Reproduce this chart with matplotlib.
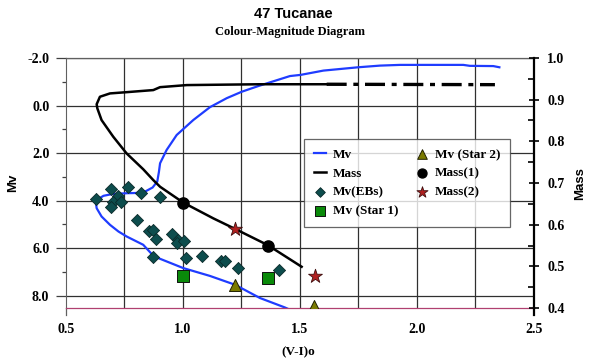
import matplotlib
matplotlib.use("Agg")
import matplotlib.pyplot as plt
from matplotlib.ticker import MultipleLocator, FormatStrFormatter

# ---------------- data ----------------
# Isochrone Mv vs (V-I)o  (left axis)
iso_vi = [2.352, 2.326, 2.226, 2.198, 1.927, 1.842, 1.749, 1.600, 1.503, 1.457,
          1.322, 1.251, 1.187, 1.115, 1.044, 0.973, 0.930, 0.902, 0.897, 0.890,
          0.870, 0.838, 0.800, 0.760, 0.700, 0.660, 0.630, 0.628, 0.631, 0.652,
          0.688, 0.724, 0.759, 0.830, 0.873, 0.902, 1.001, 1.115, 1.222, 1.329,
          1.436, 1.470]
iso_mv = [-1.61, -1.66, -1.67, -1.71, -1.71, -1.68, -1.61, -1.47, -1.29, -1.24,
          -0.82, -0.58, -0.31, 0.07, 0.61, 1.24, 1.87, 2.43, 2.80, 3.20,
          3.45, 3.62, 3.68, 3.69, 3.72, 3.80, 3.98, 4.10, 4.32, 4.67,
          5.02, 5.30, 5.51, 5.86, 6.32, 6.45, 6.84, 7.17, 7.54, 8.10,
          8.50, 8.65]

# Isochrone mass vs (V-I)o  (right axis)
mass_vi = [1.507, 1.362, 1.222, 1.130, 1.001, 0.902, 0.873, 0.830, 0.759, 0.702,
           0.652, 0.634, 0.631, 0.645, 0.688, 0.759, 0.873, 0.902, 1.016, 1.329,
           1.614]
mass_m = [0.499, 0.551, 0.590, 0.615, 0.653, 0.691, 0.707, 0.733, 0.771, 0.811,
          0.851, 0.879, 0.889, 0.907, 0.915, 0.918, 0.923, 0.930, 0.935, 0.937,
          0.937]
mass_ext_vi = [1.614, 2.333]
mass_ext_m = [0.937, 0.936]

# Eclipsing binaries
eb_vi = [0.628, 0.692, 0.764, 0.721, 0.702, 0.735, 0.692, 0.820, 0.902, 0.803,
         0.853, 0.870, 0.885, 0.952, 0.977, 0.973, 1.003, 0.872, 1.013, 1.081,
         1.161, 1.181, 1.236, 1.410]
eb_mv = [3.94, 3.51, 3.42, 3.79, 4.07, 4.07, 4.29, 3.66, 3.83, 4.81,
         5.27, 5.23, 5.60, 5.40, 5.65, 5.79, 5.68, 6.37, 6.41, 6.32,
         6.55, 6.55, 6.82, 6.93]

star1_vi = [1.001, 1.362]
star1_mv = [7.19, 7.24]
star2_vi = [1.222, 1.561]
star2_mv = [7.54, 8.45]
mass1_vi = [1.000, 1.362]
mass1_m = [0.653, 0.548]
mass2_vi = [1.222, 1.563]
mass2_m = [0.590, 0.478]

x_ticks = [0.5, 1.0, 1.5, 2.0, 2.5]
mv_ticks = [-2.0, 0.0, 2.0, 4.0, 6.0, 8.0]
mass_ticks = [0.4, 0.5, 0.6, 0.7, 0.8, 0.9, 1.0]

# ---------------- figure ----------------
serif = "Liberation Serif"
sans = "Liberation Sans"

fig = plt.figure(figsize=(5.89, 3.64), dpi=100)
ax = fig.add_axes([66/589, 1-308/364, 468/589, 250/364])
ax2 = ax.twinx()

ax.set_xlim(0.5, 2.5)
ax.set_ylim(8.52, -2.0)
ax2.set_ylim(0.4, 1.0)

# grid
for xv in [0.75, 1.0, 1.25, 1.5, 1.75, 2.0, 2.25]:
    ax.axvline(xv, color="#303030", lw=0.9, zorder=0.5)
for yv in mv_ticks:
    ax.axhline(yv, color="#303030", lw=0.9, zorder=0.5)

blue = "#1f3cff"
l_mv, = ax.plot(iso_vi, iso_mv, color=blue, lw=1.6, zorder=2, label="Mv")
eb_h = ax.scatter(eb_vi, eb_mv, marker="D", s=38, facecolor="#0d4d4d",
                  edgecolor="#0a2a2a", linewidth=0.6, zorder=3, label="Mv(EBs)")
s1_h = ax.scatter(star1_vi, star1_mv, marker="s", s=70, facecolor="#0a8a0a",
                  edgecolor="#101010", linewidth=0.7, zorder=3, label="Mv (Star 1)")
s2_h = ax.scatter(star2_vi, star2_mv, marker="^", s=75, facecolor="#7a7a00",
                  edgecolor="#202000", linewidth=0.7, zorder=3, label="Mv (Star 2)")

l_mass, = ax2.plot(mass_vi, mass_m, color="black", lw=1.8, zorder=2, label="Mass")
ax2.plot(mass_ext_vi, mass_ext_m, color="black", lw=2.4, zorder=2,
         dashes=(6, 2, 1.5, 2))
m1_h = ax2.scatter(mass1_vi, mass1_m, marker="o", s=65, facecolor="black",
                   edgecolor="black", zorder=3, label="Mass(1)")
m2_h = ax2.scatter(mass2_vi, mass2_m, marker="*", s=110, facecolor="#b02020",
                   edgecolor="#401010", linewidth=0.6, zorder=3, label="Mass(2)")

# spines
for sp in ["top", "left"]:
    ax.spines[sp].set_color("#606060")
    ax2.spines[sp].set_visible(False)
ax.spines["right"].set_visible(False)
ax.spines["bottom"].set_color("#b04070")
ax.spines["bottom"].set_linewidth(0.9)
ax2.spines["bottom"].set_visible(False)
ax2.spines["right"].set_color("black")
ax2.spines["right"].set_linewidth(1.6)
ax2.spines["top"].set_visible(False)
ax.spines["top"].set_linewidth(0.9)
# extend side lines slightly below axes
ax.plot([0, 0], [0, -0.028], transform=ax.transAxes, color="#606060", lw=0.9, clip_on=False)
ax2.plot([1, 1], [0, -0.028], transform=ax2.transAxes, color="black", lw=1.6, clip_on=False)

# ticks
ax.set_xticks(x_ticks)
ax.xaxis.set_major_formatter(FormatStrFormatter("%.1f"))
ax.tick_params(axis="x", length=0, pad=11)
ax.set_yticks(mv_ticks)
ax.yaxis.set_minor_locator(MultipleLocator(1.0))
ax.yaxis.set_major_formatter(FormatStrFormatter("%.1f"))
ax.tick_params(axis="y", which="major", length=7, width=0.9, color="#404040", pad=5)
ax.tick_params(axis="y", which="minor", length=3, width=0.9, color="#404040")

ax2.set_yticks(mass_ticks)
ax2.yaxis.set_minor_locator(MultipleLocator(0.05))
ax2.yaxis.set_major_formatter(FormatStrFormatter("%.1f"))
ax2.tick_params(axis="y", which="major", direction="inout", length=7, width=1.2, pad=6)
ax2.tick_params(axis="y", which="minor", direction="in", length=4, width=1.2)

for lab in ax.get_xticklabels() + ax.get_yticklabels() + ax2.get_yticklabels():
    lab.set_fontfamily(serif)
    lab.set_fontweight("bold")
    lab.set_fontsize(10)

# labels & titles
fig.text(293/589, 1-14/364, "47 Tucanae", ha="center", va="center",
         family=sans, weight="bold", fontsize=10.5)
fig.text(290/589, 1-32/364, "Colour-Magnitude Diagram", ha="center", va="center",
         family=serif, weight="bold", fontsize=9)
fig.text(298/589, 1-352/364, "(V-I)o", ha="center", va="center",
         family=serif, weight="bold", fontsize=9.5)
fig.text(13/589, 1-183/364, "Mv", ha="center", va="center", rotation=90,
         family=sans, weight="bold", fontsize=9.5)
fig.text(580/589, 1-184/364, "Mass", ha="center", va="center", rotation=90,
         family=sans, weight="bold", fontsize=9.5)

# legend
handles = [l_mv, l_mass, eb_h, s1_h, s2_h, m1_h, m2_h]
labels = [h.get_label() for h in handles]
leg = ax2.legend(handles, labels, ncol=2, loc="upper left",
                 bbox_to_anchor=(0.5085, 0.677), frameon=True, fancybox=False,
                 prop={"family": serif, "weight": "bold", "size": 9.5},
                 handlelength=0.9, handletextpad=0.55, labelspacing=0.5,
                 columnspacing=1.3, borderpad=0.75, borderaxespad=0.0,
                 scatterpoints=1, markerscale=0.8)
leg.get_frame().set_edgecolor("#404040")
leg.get_frame().set_linewidth(0.9)
leg.set_zorder(10)

fig.savefig("out.png", dpi=100)
